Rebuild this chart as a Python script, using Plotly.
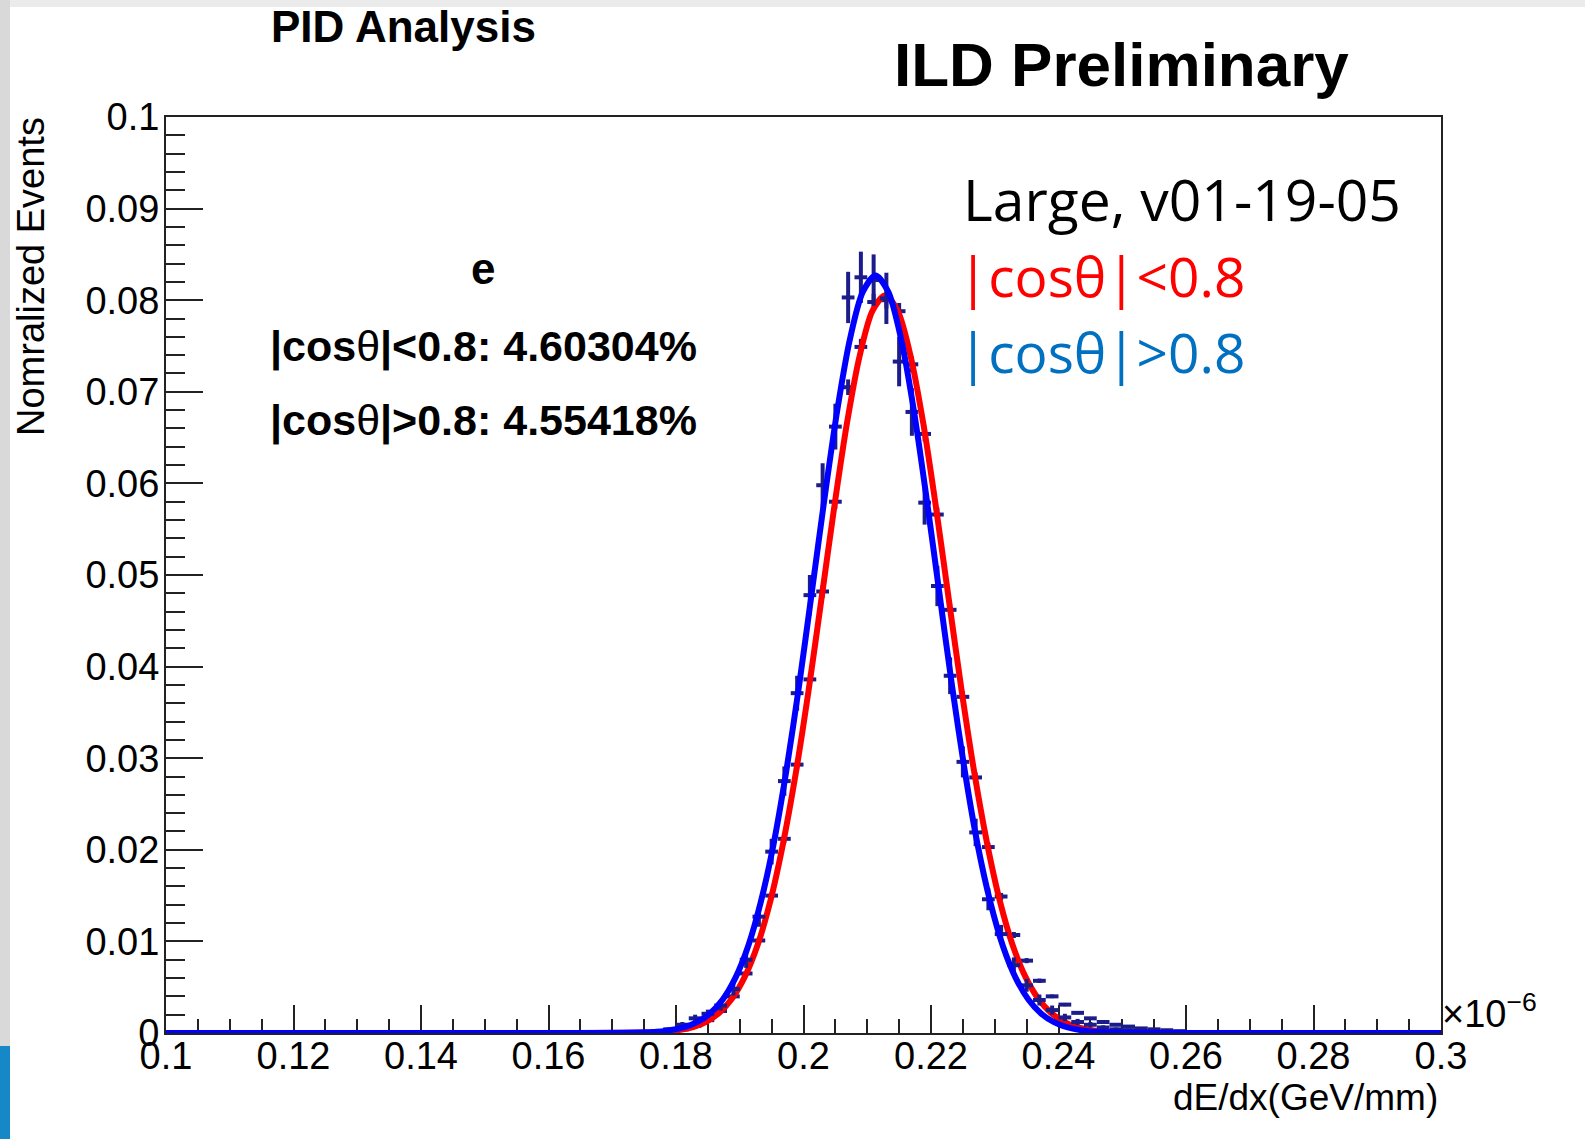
import plotly.graph_objects as go

# ---------------- data ----------------
bin_centers = [0.177, 0.179, 0.181, 0.183, 0.185, 0.187, 0.189, 0.191, 0.193, 0.195,
               0.197, 0.199, 0.201, 0.203, 0.205, 0.207, 0.209, 0.211, 0.213, 0.215,
               0.217, 0.219, 0.221, 0.223, 0.225, 0.227, 0.229, 0.231, 0.233, 0.235,
               0.237, 0.239, 0.241, 0.243, 0.245, 0.247, 0.249, 0.251, 0.253, 0.255,
               0.257, 0.259]
bin_half_width = 0.001

# |cos theta| > 0.8 histogram
hist_fwd = [0.0002, 0.0004, 0.0009, 0.0016, 0.0021, 0.0030, 0.0048, 0.0080, 0.0127, 0.0198,
            0.0275, 0.0371, 0.0478, 0.0598, 0.0662, 0.0803, 0.0825, 0.0822, 0.0802, 0.0733,
            0.0678, 0.0579, 0.0488, 0.0390, 0.0296, 0.0219, 0.0146, 0.0108, 0.0074, 0.0052,
            0.0036, 0.0025, 0.0017, 0.0012, 0.0009, 0.0006, 0.0004, 0.0003, 0.0002, 0.0002,
            0.0001, 0.0001]
hist_fwd_err = [0.00014, 0.0002, 0.0003, 0.0004, 0.00045, 0.00054, 0.00069, 0.00089, 0.0011, 0.0014,
                0.0016, 0.0019, 0.0022, 0.0024, 0.0025, 0.0028, 0.0028, 0.0028, 0.0028, 0.0027,
                0.0026, 0.0024, 0.0022, 0.0020, 0.0017, 0.0015, 0.0012, 0.0010, 0.00085, 0.0007,
                0.0006, 0.0005, 0.0004, 0.00034, 0.0003, 0.00024, 0.0002, 0.00017, 0.00014, 0.00014,
                0.0001, 0.0001]

# |cos theta| < 0.8 histogram
hist_bar = [0.0001, 0.0002, 0.0004, 0.0008, 0.0014, 0.0024, 0.0040, 0.0065, 0.0101, 0.0150,
            0.0212, 0.0293, 0.0386, 0.0482, 0.0580, 0.0705, 0.0749, 0.0798, 0.0800, 0.0788,
            0.0730, 0.0654, 0.0566, 0.0462, 0.0367, 0.0279, 0.0203, 0.0149, 0.0107, 0.0079,
            0.0057, 0.0040, 0.0031, 0.0022, 0.0016, 0.0012, 0.0009, 0.0007, 0.0005, 0.0004,
            0.0003, 0.0002]
hist_bar_err = [0.00003, 0.00005, 0.00006, 0.00009, 0.00012, 0.00016, 0.0002, 0.00026, 0.00032, 0.00039,
                0.00047, 0.00055, 0.00063, 0.0007, 0.00077, 0.00085, 0.00088, 0.0009, 0.0009, 0.0009,
                0.00086, 0.00082, 0.00076, 0.00069, 0.00061, 0.00053, 0.00046, 0.00039, 0.00033, 0.00028,
                0.00024, 0.0002, 0.00018, 0.00015, 0.00013, 0.00011, 0.0001, 0.00008, 0.00007, 0.00006,
                0.00006, 0.00005]

# fitted curves
fit_fwd_x = [0.100, 0.160, 0.1753, 0.1783, 0.1813, 0.1833, 0.1853, 0.1873, 0.1893, 0.1913,
             0.1933, 0.1953, 0.1973, 0.1993, 0.2013, 0.2033, 0.2053, 0.2073, 0.2093, 0.2113,
             0.2133, 0.2153, 0.2173, 0.2193, 0.2213, 0.2233, 0.2253, 0.2273, 0.2293, 0.2313,
             0.2333, 0.2353, 0.2373, 0.2393, 0.2413, 0.2443, 0.2473, 0.2600, 0.3000]
fit_fwd_y = [0, 0, 0.00007, 0.00023, 0.00063, 0.00118, 0.00211, 0.00363, 0.00599, 0.00944,
             0.0143, 0.0206, 0.0286, 0.0379, 0.0481, 0.0584, 0.0680, 0.0758, 0.0809, 0.0827,
             0.0809, 0.0758, 0.0680, 0.0584, 0.0481, 0.0379, 0.0286, 0.0206, 0.0143, 0.00944,
             0.00599, 0.00363, 0.00211, 0.00118, 0.00063, 0.00023, 0.00007, 0, 0]

fit_bar_x = [0.100, 0.160, 0.1768, 0.1798, 0.1828, 0.1848, 0.1868, 0.1888, 0.1908, 0.1928,
             0.1948, 0.1968, 0.1988, 0.2008, 0.2028, 0.2048, 0.2068, 0.2088, 0.2108, 0.2128,
             0.2148, 0.2168, 0.2188, 0.2208, 0.2228, 0.2248, 0.2268, 0.2288, 0.2308, 0.2328,
             0.2348, 0.2368, 0.2388, 0.2408, 0.2428, 0.2458, 0.2488, 0.2600, 0.3000]
fit_bar_y = [0, 0, 0.00008, 0.00025, 0.00067, 0.00125, 0.00222, 0.00377, 0.00615, 0.0096,
             0.0144, 0.0207, 0.0284, 0.0374, 0.0473, 0.0573, 0.0665, 0.0739, 0.0788, 0.0805,
             0.0788, 0.0739, 0.0665, 0.0573, 0.0473, 0.0374, 0.0284, 0.0207, 0.0144, 0.0096,
             0.00615, 0.00377, 0.00222, 0.00125, 0.00067, 0.00025, 0.00008, 0, 0]

x_range = [0.1, 0.3]
y_range = [0, 0.1]

# ---------------- layout geometry ----------------
W, H = 1585, 1139
L, R, T, B = 166, 1441, 117, 1033


def px_x(p):
    return (p - L) / (R - L)


def px_y(p):
    return (B - p) / (B - T)


NAVY = "#1c1c8a"
HELV = "Liberation Sans, Arial, Helvetica, sans-serif"
AXC = "#222222"

fig = go.Figure()


def hist_trace(y, err):
    return go.Scatter(
        x=bin_centers, y=y, mode="markers",
        marker=dict(size=2, color=NAVY),
        error_y=dict(type="data", array=err, visible=True, color=NAVY, thickness=4, width=0),
        error_x=dict(type="constant", value=bin_half_width, visible=True, color=NAVY, thickness=4, width=0),
        hoverinfo="skip", showlegend=False,
    )


fig.add_trace(hist_trace(hist_bar, hist_bar_err))
fig.add_trace(go.Scatter(x=fit_bar_x, y=fit_bar_y, mode="lines",
                         line=dict(color="#ff0000", width=6, shape="spline", smoothing=0.8),
                         showlegend=False))
fig.add_trace(hist_trace(hist_fwd, hist_fwd_err))
fig.add_trace(go.Scatter(x=fit_fwd_x, y=fit_fwd_y, mode="lines",
                         line=dict(color="#0000ff", width=6, shape="spline", smoothing=0.8),
                         showlegend=False))

axis_common = dict(
    showgrid=False, zeroline=False, showline=True, linecolor=AXC, linewidth=2,
    mirror=True, ticks="inside", tickwidth=2, tickcolor=AXC,
    tickfont=dict(family=HELV, size=38, color="black"), layer="below traces",
)

fig.update_xaxes(range=x_range, tick0=0.1, dtick=0.02, ticklen=28,
                 minor=dict(dtick=0.005, ticks="inside", ticklen=14, tickwidth=2, tickcolor=AXC, showgrid=False),
                 ticklabelstandoff=-12, **axis_common)
fig.update_yaxes(range=y_range, tick0=0, dtick=0.01, ticklen=37,
                 minor=dict(dtick=0.002, ticks="inside", ticklen=19, tickwidth=2, tickcolor=AXC, showgrid=False),
                 ticklabelstandoff=-3, **axis_common)

# slide background decorations (gray strips, blue corner)
shapes = [
    dict(type="rect", xref="paper", yref="paper", x0=px_x(0), x1=px_x(W), y0=px_y(0), y1=px_y(7),
         fillcolor="#ebebeb", line=dict(width=0), layer="below"),
    dict(type="rect", xref="paper", yref="paper", x0=px_x(0), x1=px_x(10), y0=px_y(0), y1=px_y(1046),
         fillcolor="#d9d9d9", line=dict(width=0), layer="below"),
    dict(type="rect", xref="paper", yref="paper", x0=px_x(0), x1=px_x(10), y0=px_y(1046), y1=px_y(H),
         fillcolor="#1688c8", line=dict(width=0), layer="below"),
]

ann = []


def add_text(text, x, y, size, color="black", family=HELV, xanchor="center", textangle=0):
    ann.append(dict(text=text, x=px_x(x), y=px_y(y), xref="paper", yref="paper",
                    xanchor=xanchor, yanchor="middle", showarrow=False, textangle=textangle,
                    font=dict(family=family, size=size, color=color)))


add_text("<b>PID Analysis</b>", 403, 26, 44)
add_text("<b>ILD Preliminary</b>", 1121, 65, 62)
add_text("<b>e</b>", 483, 268, 44)
add_text("<b>|cos</b>θ<b>|&lt;0.8: 4.60304%</b>", 268, 346, 43, xanchor="left")
add_text("<b>|cos</b>θ<b>|&gt;0.8: 4.55418%</b>", 268, 420, 43, xanchor="left")

OPEN = "Open Sans, Noto Sans, sans-serif"
add_text("Large, v01-19-05", 961, 199, 57, family=OPEN, xanchor="left")
add_text("|cosθ|&lt;0.8", 956, 275, 55, color="#ff0000", family=OPEN, xanchor="left")
add_text("|cosθ|&gt;0.8", 956, 351, 55, color="#0070c0", family=OPEN, xanchor="left")

add_text("Nomralized Events", 31, 277, 38, textangle=-90)
add_text("dE/dx(GeV/mm)", 1440, 1097, 37, xanchor="right")
add_text("×10<sup>−6</sup>", 1440, 1011, 38, xanchor="left")

fig.update_layout(
    width=W, height=H,
    margin=dict(l=L, r=W - R, t=T, b=H - B, pad=0),
    paper_bgcolor="white", plot_bgcolor="white",
    showlegend=False, shapes=shapes, annotations=ann,
)

fig.write_html("out.html")
